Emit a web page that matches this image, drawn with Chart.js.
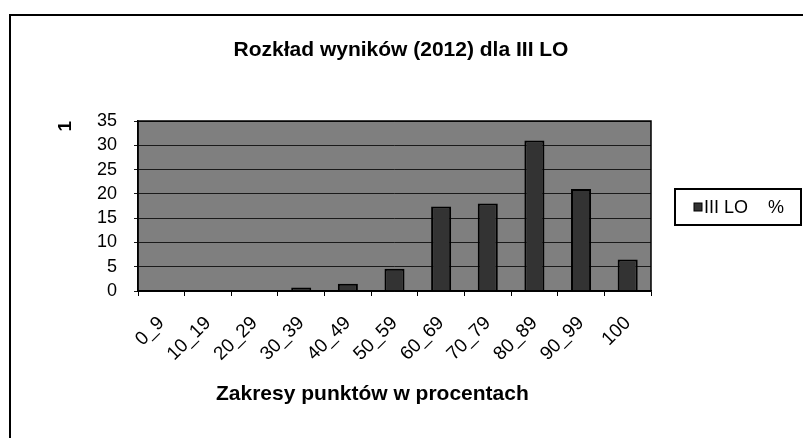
<!DOCTYPE html>
<html>
<head>
<meta charset="utf-8">
<script src="https://cdn.jsdelivr.net/npm/chart.js@4.4.1/dist/chart.umd.min.js"></script>
<style>
    html, body { margin: 0; padding: 0; background: #fff; }
    #wrap { position: relative; width: 803px; height: 438px; }
</style>
</head>
<body>
<div id="wrap"><canvas id="chart" width="803" height="438"></canvas></div>
<script>
// data
const categories = ['0_9', '10_19', '20_29', '30_39', '40_49', '50_59', '60_69', '70_79', '80_89', '90_99', '100'];
const values = [0, 0, 0, 0.7, 1.5, 4.6, 17.4, 18.0, 31.0, 21.0, 6.5];
const seriesName = 'III LO    %';
const chartTitle = 'Rozkład wyników (2012) dla III LO';
const xTitle = 'Zakresy punktów w procentach';
const yTitle = '1';

const FONT = "'Liberation Sans', Arial, sans-serif";

// gray plot background, plot outline, titles, legend box and outer frame
const decor = {
    id: 'decor',
    beforeDraw(chart) {
        const { ctx, chartArea: a } = chart;
        ctx.save();
        ctx.fillStyle = '#7f7f7f';
        ctx.fillRect(a.left, a.top, a.right - a.left, a.bottom - a.top);
        ctx.restore();
    },
    afterDraw(chart) {
        const { ctx, chartArea: a } = chart;
        ctx.save();
        ctx.strokeStyle = '#000';
        ctx.lineWidth = 1.5;
        ctx.strokeRect(a.left, a.top, a.right - a.left, a.bottom - a.top);

        // outer frame (left + top edge)
        ctx.lineWidth = 2;
        ctx.beginPath();
        ctx.moveTo(10, 438);
        ctx.lineTo(10, 15);
        ctx.lineTo(803, 15);
        ctx.stroke();

        ctx.fillStyle = '#000';
        ctx.textBaseline = 'middle';

        // chart title, centred on the whole sheet
        ctx.font = 'bold 21px ' + FONT;
        ctx.textAlign = 'center';
        ctx.fillText(chartTitle, 401, 50);

        // x axis title (sits a bit left of the plot centre in the scan)
        ctx.textAlign = 'left';
        ctx.fillText(xTitle, 216, 394);

        // legend
        const ds = chart.data.datasets[0];
        ctx.strokeRect(675, 189, 126, 36);
        ctx.fillStyle = ds.backgroundColor;
        ctx.fillRect(694, 203, 8, 8);
        ctx.lineWidth = 1;
        ctx.strokeRect(694, 203, 8, 8);
        ctx.fillStyle = '#000';
        ctx.font = '18px ' + FONT;
        ctx.fillText(ds.label, 704, 208);
        ctx.restore();
    }
};

new Chart(document.getElementById('chart'), {
    type: 'bar',
    data: {
        labels: categories,
        datasets: [{
            label: seriesName,
            data: values,
            backgroundColor: '#333333',
            borderColor: '#000',
            borderWidth: 2,
            barPercentage: 0.43,
            categoryPercentage: 1
        }]
    },
    options: {
        responsive: false,
        animation: false,
        layout: { padding: { left: 0, right: 152, top: 121, bottom: 0 } },
        plugins: {
            legend: { display: false },
            tooltip: { enabled: false },
            title: { display: false }
        },
        scales: {
            x: {
                afterFit: s => { s.height = 147; },
                grid: { drawOnChartArea: false, drawTicks: true, tickLength: 5, color: '#000', offset: true },
                border: { color: '#000', width: 1.5 },
                ticks: {
                    color: '#000',
                    font: { family: FONT, size: 19 },
                    minRotation: 45,
                    maxRotation: 45,
                    padding: 16,
                    autoSkip: false
                }
            },
            y: {
                min: 0,
                max: 35,
                afterFit: s => { s.width = 138; },
                grid: { color: '#1a1a1a', lineWidth: 1, drawTicks: true, tickLength: 4 },
                border: { color: '#000', width: 1.5 },
                ticks: {
                    stepSize: 5,
                    autoSkip: false,
                    color: '#000',
                    font: { family: FONT, size: 18 },
                    padding: 17
                },
                title: {
                    display: true,
                    text: yTitle,
                    align: 'end',
                    color: '#000',
                    font: { family: FONT, size: 19, weight: 'bold' },
                    padding: { top: 54, bottom: 0 }
                }
            }
        }
    },
    plugins: [decor]
});
</script>
</body>
</html>
